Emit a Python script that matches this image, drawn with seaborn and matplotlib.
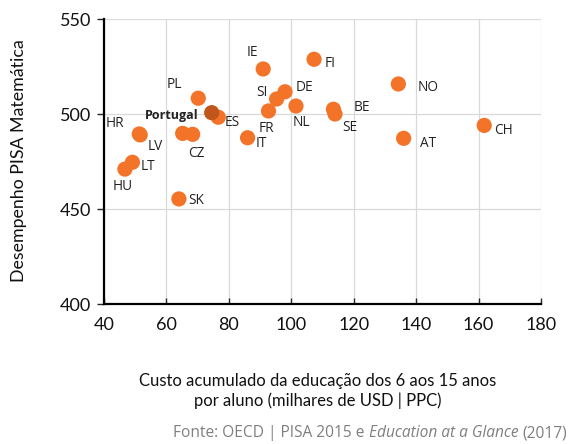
import pandas as pd
import matplotlib.pyplot as plt
import seaborn as sns

sns.set_style("white")

# ============================================================
#  DATA
# ============================================================

countries = ["IE", "FI", "PL", "Portugal", "ES", "HR", "LV", "CZ", "CZ2",
             "LT", "HU", "SK", "SI", "DE", "NL", "FR", "IT", "BE", "SE",
             "NO", "AT", "CH"]
custo = [91.0, 107.3, 70.2, 74.5, 76.6, 51.3, 51.6, 65.2, 68.4,
         49.1, 46.7, 64.0, 95.3, 98.0, 101.5, 92.7, 86.0, 113.5, 114.0,
         134.3, 136.0, 161.8]
pisa = [523.7, 528.8, 508.3, 500.7, 498.3, 489.5, 489.0, 489.8, 489.3,
        474.6, 471.0, 455.3, 507.9, 511.7, 504.2, 501.6, 487.5, 502.5, 500.0,
        515.8, 487.2, 494.0]
labels = ["IE", "FI", "PL", "Portugal", "ES", "HR", "LV", "CZ", "",
          "LT", "HU", "SK", "SI", "DE", "NL", "FR", "IT", "BE", "SE",
          "NO", "AT", "CH"]
# label offsets in pixels (dx, dy)
offsets = [(-11, 16), (16, -4), (-24, 14), (-13, -3), (14, -5), (-24, 10),
           (15, -12), (14, -20), (0, 0), (16, -4), (-2, -17), (17, -2),
           (-15, 6), (19, 4), (5, -16), (-2, -18), (14, -6), (28, 2),
           (15, -13), (30, -4), (24, -5), (19, -5)]

df = pd.DataFrame({"pais": countries, "custo": custo, "pisa": pisa, "label": labels})
df["grupo"] = ["Portugal" if p == "Portugal" else "Outros" for p in df["pais"]]

ORANGE = "#F37329"
DARK = "#C0561C"

# ============================================================
#  PLOT
# ============================================================

fig = plt.figure(figsize=(5.7, 4.44), dpi=100)
ax = fig.add_axes([104 / 570, 1 - 304 / 444, 437 / 570, 285 / 444])

sns.scatterplot(data=df[df["grupo"] == "Outros"], x="custo", y="pisa",
                color=ORANGE, s=120, edgecolor="none", ax=ax, zorder=3)
sns.scatterplot(data=df[df["grupo"] == "Portugal"], x="custo", y="pisa",
                color=DARK, s=120, edgecolor="none", ax=ax, zorder=4)

for (_, row), (dx, dy) in zip(df.iterrows(), offsets):
    if not row["label"]:
        continue
    if row["label"] == "Portugal":
        ax.annotate(row["label"], (row["custo"], row["pisa"]), xytext=(dx, dy),
                    textcoords="offset pixels", ha="right", va="center",
                    fontsize=9, fontweight="bold", family="Open Sans", color="#222222")
    else:
        ax.annotate(row["label"], (row["custo"], row["pisa"]), xytext=(dx, dy),
                    textcoords="offset pixels", ha="center", va="center",
                    fontsize=9.8, family="Open Sans", color="#222222")

ax.set_xlim(40, 180)
ax.set_ylim(400, 550)
ax.set_xticks(range(40, 181, 20))
ax.set_yticks(range(400, 551, 50))
ax.grid(True, color="#D9D9D9", linewidth=0.9)
ax.set_axisbelow(True)

for side in ["top", "right"]:
    ax.spines[side].set_visible(False)
for side in ["left", "bottom"]:
    ax.spines[side].set_color("black")
    ax.spines[side].set_linewidth(1.6)

ax.tick_params(axis="y", direction="out", length=5, width=1, left=True,
               labelsize=13, pad=4)
ax.tick_params(axis="x", direction="in", length=4, width=1, bottom=True,
               labelsize=13, pad=9)
for lab in ax.get_xticklabels() + ax.get_yticklabels():
    lab.set_family("Lato")
    lab.set_color("#111111")

ax.set_xlabel("")
ax.set_ylabel("")
fig.text(19 / 570, 1 - 161 / 444, "Desempenho PISA Matemática", rotation=90,
         ha="center", va="center", family="Lato", fontsize=12.8, color="#111111")

fig.text(318 / 570, 1 - 391 / 444,
         "Custo acumulado da educação dos 6 aos 15 anos\npor aluno (milhares de USD | PPC)",
         ha="center", va="center", family="Lato", fontsize=12, color="#111111",
         linespacing=1.2)

# source line with italic part, chained from the right
t3 = fig.text(567 / 570, 1 - 433 / 444, "(2017)", ha="right", va="center",
              family="Open Sans", fontsize=11.2, color="#7F7F7F")
t2 = ax.annotate("Education at a Glance", xy=(0, 0.5), xycoords=t3,
                 xytext=(-4, 0), textcoords="offset pixels", ha="right", va="center",
                 family="Open Sans", style="italic", fontsize=11.2, color="#7F7F7F")
t1 = ax.annotate("Fonte: OECD | PISA 2015 e", xy=(0, 0.5), xycoords=t2,
                 xytext=(-4, 0), textcoords="offset pixels", ha="right", va="center",
                 family="Open Sans", fontsize=11.2, color="#7F7F7F")

fig.savefig("out.png", dpi=100)
